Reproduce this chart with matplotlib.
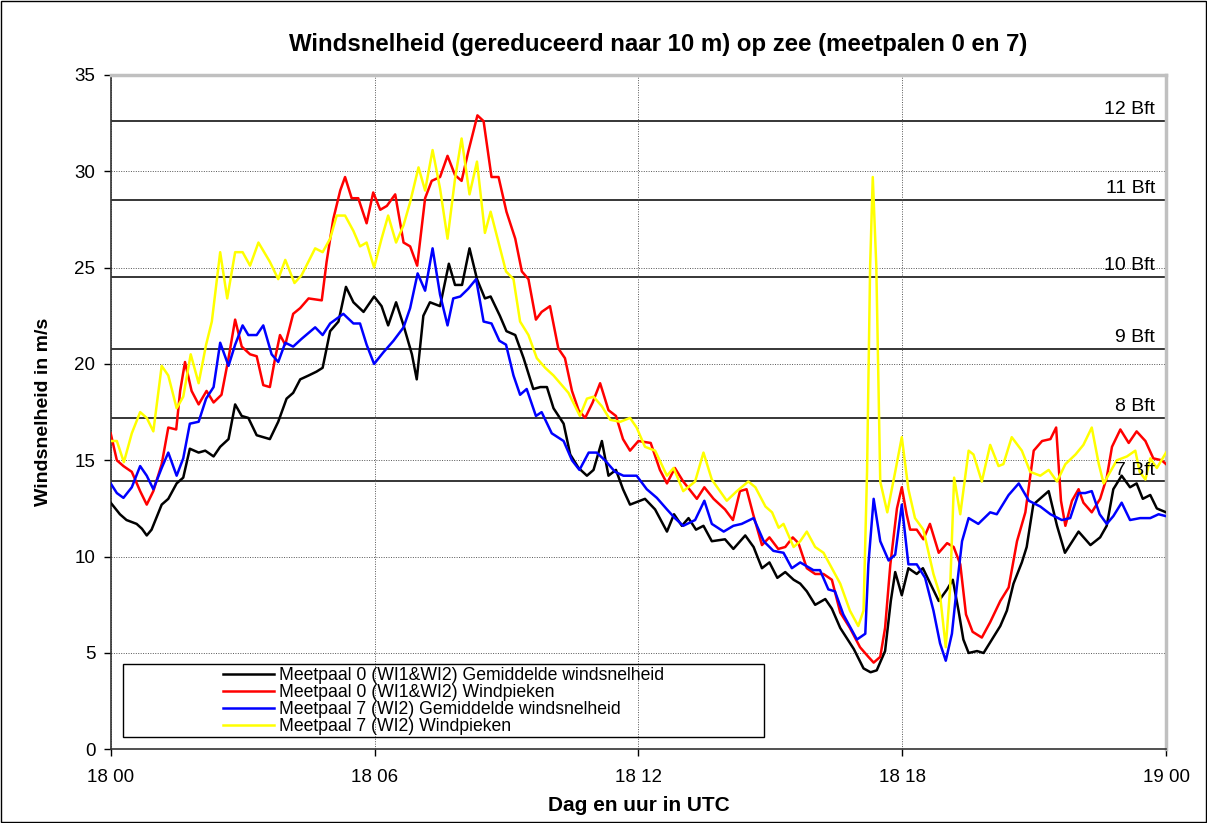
import matplotlib
matplotlib.use("Agg")
import matplotlib.pyplot as plt
from matplotlib.patches import Rectangle

plt.rcParams['font.family'] = ['Liberation Sans', 'DejaVu Sans']

# hours after 18 00 UTC, wind speed in m/s
black = [(0, 12.8), (0.21, 12.2), (0.36, 11.9), (0.59, 11.7), (0.71, 11.45), (0.82, 11.1), (0.93, 11.4),
         (1.16, 12.7), (1.31, 13.0), (1.5, 13.8), (1.65, 14.1), (1.8, 15.6), (2.0, 15.4), (2.15, 15.5),
         (2.34, 15.2), (2.49, 15.7), (2.68, 16.1), (2.83, 17.9), (2.98, 17.3), (3.13, 17.2), (3.32, 16.3),
         (3.62, 16.1), (3.81, 17.0), (4.0, 18.2), (4.15, 18.5), (4.31, 19.2), (4.5, 19.4), (4.68, 19.6),
         (4.82, 19.8), (4.99, 21.7), (5.18, 22.2), (5.35, 24.0), (5.52, 23.2), (5.75, 22.7), (5.99, 23.5),
         (6.16, 23.0), (6.31, 22.0), (6.49, 23.2), (6.66, 22.0), (6.85, 20.5), (6.96, 19.2), (7.11, 22.5),
         (7.26, 23.2), (7.49, 23.0), (7.69, 25.2), (7.83, 24.1), (7.99, 24.1), (8.16, 26.0), (8.33, 24.4),
         (8.51, 23.4), (8.64, 23.5), (8.85, 22.5), (9.0, 21.7), (9.2, 21.5), (9.39, 20.3), (9.61, 18.7),
         (9.77, 18.8), (9.92, 18.8), (10.07, 17.7), (10.3, 16.9), (10.45, 15.3), (10.64, 14.6), (10.83, 14.2),
         (10.98, 14.5), (11.17, 16.0), (11.32, 14.2), (11.49, 14.5), (11.65, 13.5), (11.81, 12.7),
         (12.15, 13.0), (12.38, 12.45), (12.65, 11.3), (12.81, 12.2), (12.99, 11.6), (13.14, 12.0),
         (13.31, 11.4), (13.48, 11.6), (13.67, 10.8), (13.97, 10.9), (14.16, 10.4), (14.43, 11.1),
         (14.62, 10.5), (14.81, 9.4), (14.98, 9.7), (15.16, 8.9), (15.34, 9.2), (15.53, 8.8), (15.68, 8.6),
         (15.83, 8.2), (16.02, 7.5), (16.25, 7.8), (16.4, 7.3), (16.59, 6.3), (16.9, 5.2), (17.12, 4.2),
         (17.28, 4.0), (17.42, 4.1), (17.61, 5.1), (17.74, 7.7), (17.84, 9.2), (17.99, 8.0), (18.14, 9.4),
         (18.33, 9.1), (18.47, 9.4), (18.64, 8.6), (18.83, 7.7), (19.02, 8.3), (19.15, 8.8), (19.28, 7.2),
         (19.39, 5.7), (19.51, 5.0), (19.7, 5.1), (19.85, 5.0), (20.04, 5.7), (20.23, 6.4), (20.38, 7.2),
         (20.53, 8.6), (20.72, 9.7), (20.83, 10.5), (20.98, 12.7), (21.13, 13.0), (21.33, 13.4),
         (21.52, 11.6), (21.7, 10.2), (22.01, 11.3), (22.28, 10.6), (22.5, 11.0), (22.65, 11.6),
         (22.8, 13.5), (22.99, 14.2), (23.18, 13.6), (23.33, 13.8), (23.47, 13.0), (23.64, 13.2),
         (23.79, 12.5), (24.0, 12.3)]

red = [(0, 16.4), (0.14, 15.0), (0.29, 14.7), (0.48, 14.4), (0.67, 13.4), (0.82, 12.7), (0.97, 13.4),
       (1.16, 14.8), (1.31, 16.7), (1.49, 16.6), (1.58, 18.6), (1.69, 20.1), (1.84, 18.6), (2.0, 17.9),
       (2.18, 18.6), (2.34, 18.0), (2.52, 18.4), (2.68, 20.3), (2.83, 22.3), (2.98, 20.9), (3.17, 20.5),
       (3.32, 20.4), (3.47, 18.9), (3.62, 18.8), (3.74, 20.3), (3.85, 21.5), (3.97, 21.0), (4.15, 22.6),
       (4.31, 22.9), (4.5, 23.4), (4.8, 23.3), (4.91, 25.3), (5.06, 27.5), (5.22, 29.0), (5.33, 29.7),
       (5.48, 28.6), (5.63, 28.6), (5.82, 27.3), (5.97, 28.9), (6.13, 28.0), (6.28, 28.2), (6.47, 28.8),
       (6.66, 26.3), (6.81, 26.1), (6.97, 25.1), (7.15, 28.6), (7.3, 29.5), (7.49, 29.7), (7.66, 30.8),
       (7.83, 29.8), (7.98, 29.5), (8.13, 31.0), (8.34, 32.9), (8.48, 32.6), (8.66, 29.7), (8.82, 29.7),
       (9.0, 27.9), (9.2, 26.5), (9.35, 24.8), (9.5, 24.4), (9.67, 22.3), (9.8, 22.7), (9.99, 23.0),
       (10.18, 20.8), (10.33, 20.3), (10.49, 18.6), (10.64, 17.6), (10.79, 17.2), (10.96, 18.0),
       (11.13, 19.0), (11.32, 17.6), (11.49, 17.3), (11.65, 16.1), (11.81, 15.5), (12.0, 16.0),
       (12.28, 15.9), (12.49, 14.5), (12.65, 13.8), (12.83, 14.6), (13.02, 13.9), (13.33, 13.0),
       (13.5, 13.6), (13.71, 13.0), (13.97, 12.45), (14.15, 11.9), (14.31, 13.4), (14.46, 13.5),
       (14.61, 12.2), (14.81, 10.6), (14.98, 11.0), (15.18, 10.4), (15.34, 10.5), (15.51, 11.0),
       (15.64, 10.7), (15.83, 9.4), (16.02, 9.1), (16.21, 9.1), (16.4, 8.8), (16.59, 7.1), (16.81, 6.3),
       (17.04, 5.3), (17.23, 4.8), (17.35, 4.5), (17.5, 4.8), (17.61, 6.3), (17.73, 9.6), (17.88, 12.5),
       (17.99, 13.6), (18.1, 12.2), (18.18, 11.4), (18.33, 11.4), (18.48, 10.9), (18.63, 11.7),
       (18.83, 10.2), (19.02, 10.7), (19.17, 10.5), (19.32, 9.6), (19.45, 7.0), (19.6, 6.1), (19.81, 5.8),
       (20.0, 6.6), (20.23, 7.7), (20.42, 8.4), (20.61, 10.8), (20.8, 12.3), (20.99, 15.5), (21.18, 16.0),
       (21.37, 16.1), (21.5, 16.7), (21.61, 12.9), (21.71, 11.6), (21.86, 12.9), (22.01, 13.5),
       (22.12, 12.8), (22.31, 12.3), (22.5, 13.0), (22.65, 14.1), (22.77, 15.7), (22.96, 16.6),
       (23.15, 15.9), (23.33, 16.5), (23.53, 16.0), (23.71, 15.1), (23.9, 15.0), (24.0, 14.8)]

blue = [(0, 13.8), (0.14, 13.3), (0.29, 13.05), (0.48, 13.6), (0.67, 14.7), (0.82, 14.2), (0.97, 13.5),
        (1.16, 14.6), (1.31, 15.4), (1.5, 14.2), (1.65, 15.1), (1.8, 16.9), (2.0, 17.0), (2.17, 18.2),
        (2.34, 18.8), (2.49, 21.1), (2.68, 19.9), (2.83, 21.0), (3.0, 22.0), (3.13, 21.5), (3.32, 21.5),
        (3.47, 22.0), (3.66, 20.5), (3.81, 20.1), (3.97, 21.1), (4.15, 20.9), (4.34, 21.3), (4.65, 21.9),
        (4.82, 21.5), (4.99, 22.1), (5.29, 22.6), (5.52, 22.1), (5.67, 22.1), (5.82, 21.0), (5.99, 20.0),
        (6.2, 20.6), (6.43, 21.2), (6.66, 21.9), (6.81, 22.9), (6.98, 24.7), (7.15, 23.8), (7.32, 26.0),
        (7.49, 23.6), (7.66, 22.0), (7.79, 23.4), (7.95, 23.5), (8.13, 23.9), (8.31, 24.4), (8.48, 22.2),
        (8.66, 22.1), (8.84, 21.2), (8.99, 21.0), (9.16, 19.4), (9.31, 18.4), (9.46, 18.7), (9.67, 17.3),
        (9.8, 17.5), (10.03, 16.4), (10.3, 16.0), (10.49, 15.0), (10.66, 14.5), (10.87, 15.4),
        (11.05, 15.4), (11.24, 15.0), (11.47, 14.4), (11.66, 14.2), (11.96, 14.2), (12.19, 13.5),
        (12.42, 13.05), (12.65, 12.45), (12.83, 12.0), (13.02, 11.6), (13.29, 11.9), (13.5, 12.9),
        (13.67, 11.7), (13.94, 11.3), (14.16, 11.6), (14.35, 11.7), (14.62, 12.0), (14.85, 10.8),
        (15.07, 10.3), (15.3, 10.2), (15.49, 9.4), (15.68, 9.7), (15.98, 9.3), (16.13, 9.3), (16.32, 8.3),
        (16.47, 8.2), (16.66, 7.0), (16.97, 5.7), (17.16, 6.0), (17.23, 9.6), (17.35, 13.0), (17.5, 10.8),
        (17.69, 9.8), (17.84, 10.1), (17.99, 12.7), (18.14, 9.6), (18.33, 9.6), (18.52, 8.9), (18.71, 7.2),
        (18.86, 5.5), (18.99, 4.6), (19.13, 6.0), (19.24, 8.4), (19.36, 10.8), (19.51, 12.0), (19.73, 11.7),
        (20.0, 12.3), (20.15, 12.2), (20.42, 13.2), (20.65, 13.8), (20.88, 12.9), (21.14, 12.6),
        (21.37, 12.2), (21.63, 11.9), (21.82, 12.0), (22.01, 13.3), (22.16, 13.3), (22.31, 13.4),
        (22.49, 12.2), (22.65, 11.7), (22.8, 12.1), (22.99, 12.8), (23.18, 11.9), (23.41, 12.0),
        (23.64, 12.0), (23.83, 12.2), (24.0, 12.1)]

yellow = [(0, 16.0), (0.14, 16.0), (0.3, 14.9), (0.48, 16.4), (0.67, 17.5), (0.82, 17.2), (0.97, 16.5),
          (1.16, 19.9), (1.31, 19.4), (1.5, 17.7), (1.65, 18.3), (1.82, 20.5), (2.0, 19.0), (2.17, 21.0),
          (2.3, 22.2), (2.49, 25.8), (2.65, 23.4), (2.83, 25.8), (3.0, 25.8), (3.17, 25.1), (3.36, 26.3),
          (3.62, 25.3), (3.81, 24.4), (3.97, 25.4), (4.18, 24.2), (4.34, 24.6), (4.65, 26.0), (4.82, 25.8),
          (4.99, 26.5), (5.14, 27.7), (5.33, 27.7), (5.52, 26.9), (5.67, 26.1), (5.82, 26.3), (5.99, 25.0),
          (6.16, 26.5), (6.31, 27.7), (6.49, 26.3), (6.66, 27.2), (6.81, 28.4), (7.0, 30.2), (7.15, 29.0),
          (7.32, 31.1), (7.49, 29.1), (7.66, 26.5), (7.83, 29.6), (7.98, 31.7), (8.16, 28.8), (8.33, 30.5),
          (8.51, 26.8), (8.64, 27.9), (8.82, 26.3), (8.99, 24.8), (9.16, 24.4), (9.31, 22.2), (9.5, 21.5),
          (9.69, 20.3), (9.88, 19.8), (10.07, 19.4), (10.22, 19.0), (10.41, 18.5), (10.67, 17.3),
          (10.83, 18.2), (10.98, 18.3), (11.17, 17.8), (11.36, 17.1), (11.59, 17.0), (11.81, 17.2),
          (11.96, 16.7), (12.15, 15.7), (12.38, 15.5), (12.65, 14.2), (12.8, 14.6), (13.02, 13.4),
          (13.29, 13.9), (13.48, 15.4), (13.67, 14.0), (14.01, 12.9), (14.24, 13.4), (14.5, 13.9),
          (14.66, 13.6), (14.89, 12.6), (15.04, 12.3), (15.19, 11.5), (15.3, 11.7), (15.53, 10.5),
          (15.68, 10.8), (15.83, 11.3), (16.02, 10.5), (16.21, 10.2), (16.4, 9.4), (16.59, 8.6),
          (16.81, 7.2), (17.0, 6.4), (17.12, 7.2), (17.2, 14.4), (17.27, 25.1), (17.33, 29.7),
          (17.41, 25.1), (17.5, 13.9), (17.66, 12.3), (17.84, 14.4), (17.99, 16.2), (18.14, 13.5),
          (18.29, 12.0), (18.48, 11.4), (18.71, 9.1), (18.86, 8.0), (18.99, 5.3), (19.09, 8.4),
          (19.18, 14.1), (19.32, 12.2), (19.51, 15.5), (19.62, 15.3), (19.81, 13.9), (20.0, 15.8),
          (20.19, 14.7), (20.3, 14.8), (20.49, 16.2), (20.72, 15.5), (20.91, 14.4), (21.14, 14.2),
          (21.33, 14.5), (21.52, 13.9), (21.71, 14.8), (21.94, 15.3), (22.12, 15.8), (22.31, 16.7),
          (22.47, 14.8), (22.58, 13.8), (22.73, 14.4), (22.88, 15.0), (23.11, 15.2), (23.3, 15.5),
          (23.4, 14.4), (23.53, 14.0), (23.64, 15.1), (23.79, 14.6), (24.0, 15.4)]

names = ["Meetpaal 0 (WI1&WI2) Gemiddelde windsnelheid",
         "Meetpaal 0 (WI1&WI2) Windpieken",
         "Meetpaal 7 (WI2) Gemiddelde windsnelheid",
         "Meetpaal 7 (WI2) Windpieken"]
colors = ["#000000", "#ff0000", "#0000ff", "#ffff00"]

bft_labels = ["7 Bft", "8 Bft", "9 Bft", "10 Bft", "11 Bft", "12 Bft"]
bft_values = [13.9, 17.2, 20.8, 24.5, 28.5, 32.6]

xtick_pos = [0, 6, 12, 18, 24]
xtick_labels = ["18 00", "18 06", "18 12", "18 18", "19 00"]

fig = plt.figure(figsize=(12.07, 8.23), dpi=100)
ax = fig.add_axes([0.0917, 0.0895, 0.8744, 0.8195])

# Beaufort lines
for lab, val in zip(bft_labels, bft_values):
    ax.axhline(val, color="black", lw=1.1, zorder=1)
    ax.text(23.75, val + 0.15, lab, ha="right", va="bottom", fontsize=14, zorder=5)

for data, name, c in zip([black, red, blue, yellow], names, colors):
    t = [p[0] for p in data]
    v = [p[1] for p in data]
    ax.plot(t, v, color=c, lw=1.8, label=name, zorder=3)

ax.set_xlim(0, 24)
ax.set_ylim(0, 35)
ax.set_yticks(range(0, 36, 5))
ax.set_xticks(xtick_pos)
ax.set_xticklabels(xtick_labels)
ax.tick_params(labelsize=13.5, direction="out", length=5, width=1)
ax.tick_params(axis="x", pad=9)
ax.tick_params(axis="y", pad=6)
ax.grid(True, color="#555555", ls=(0, (1, 1.5)), lw=0.7, zorder=0)

for s in ["left", "bottom"]:
    ax.spines[s].set_color("#333333")
    ax.spines[s].set_linewidth(1.2)
for s in ["top", "right"]:
    ax.spines[s].set_color("#c0c0c0")
    ax.spines[s].set_linewidth(2.5)

# legend box
ax.add_patch(Rectangle((0.28, 0.62), 14.58, 3.79, fill=False, edgecolor="black", lw=1, zorder=4))
leg = ax.legend(loc="center", bbox_to_anchor=(7.57, 2.5), bbox_transform=ax.transData,
                frameon=False, fontsize=12.7, handlelength=2.9, handletextpad=0.25,
                labelspacing=0.0, borderpad=0)

ax.set_xlabel("Dag en uur in UTC", fontsize=15, fontweight="bold", labelpad=7)
ax.set_ylabel("Windsnelheid in m/s", fontsize=14, fontweight="bold", labelpad=16)
fig.text(658 / 1207, 1 - 44 / 823, "Windsnelheid (gereduceerd naar 10 m) op zee (meetpalen 0 en 7)",
         ha="center", va="center", fontsize=17.3, fontweight="bold")

fig.patches.append(Rectangle((0.001, 0.001), 0.998, 0.998, transform=fig.transFigure,
                             fill=False, edgecolor="black", lw=1))

fig.savefig("out.png", dpi=100)
